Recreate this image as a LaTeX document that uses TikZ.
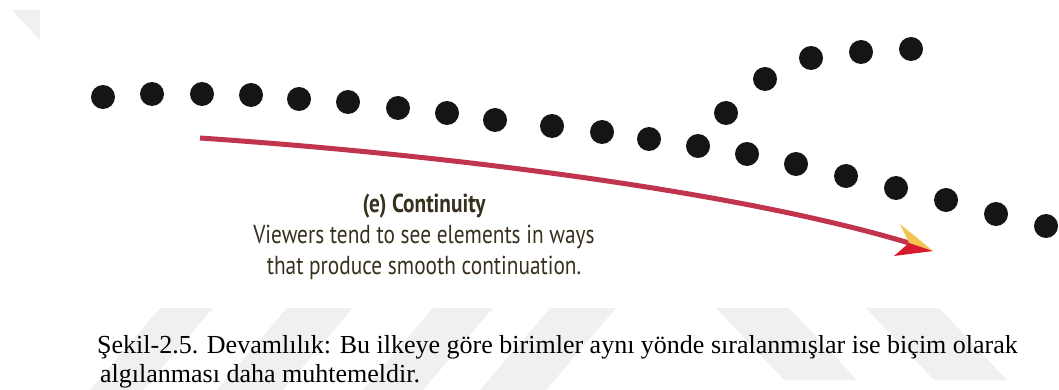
\documentclass[tikz,border=0pt]{standalone}
\usepackage{fontspec}
\setmainfont{Liberation Serif}
\newfontfamily\condsans[FakeStretch=0.82]{PT Sans}

\definecolor{dotblack}{RGB}{22,20,20}
\definecolor{arrowred}{RGB}{192,52,78}
\definecolor{headred}{RGB}{214,28,44}
\definecolor{headyellow}{RGB}{244,196,80}
\definecolor{labelbrown}{RGB}{56,48,30}
\definecolor{markgray}{RGB}{240,240,240}

\tikzset{
  dot/.style={circle, fill=dotblack, inner sep=0pt, minimum size=24pt},
  markband/.style={fill=markgray, draw=none},
  labeltext/.style={font=\condsans\fontsize{26}{31}\selectfont, text=labelbrown, align=center},
  captionline/.style={font=\fontsize{26}{29}\selectfont, anchor=base west, inner sep=0pt},
}

\begin{document}
\begin{tikzpicture}[x=1pt, y=-1pt]
    % --- canvas (pixel units, y downwards) ---
    \useasboundingbox (0,0) rectangle (1059,390);

    % --- faint watermark bands ---
    \fill[markband] (12,10) -- (40,10) -- (40,40) -- cycle;
    \foreach \xa/\xb in {160/213, 287/353, 433/493, 550/616}
        \fill[markband] (\xa,308) -- (\xb,308) -- (\xb-70,390) -- (\xa-70,390) -- cycle;
    \foreach \xa/\xb in {716/789, 866/939}
        \fill[markband] (\xa,308) -- (\xb,308) -- (\xb+68,380) -- (\xa+68,380) -- cycle;

    % --- main row of dots, bending down on the right ---
    \foreach \n/\x/\y in {1/103/97, 2/152/94, 3/202/94, 4/251/95, 5/299/99,
                          6/348/102, 7/398/108, 8/447/113, 9/495/120, 10/552/126,
                          11/602/132, 12/649/139, 13/698/146, 14/747/154, 15/796/164,
                          16/846/176, 17/896/188, 18/946/200, 19/996/214, 20/1046/226}
        \node[dot] (d\n) at (\x,\y) {};

    % --- branch of dots rising to the upper right ---
    \foreach \n/\x/\y in {1/726/113, 2/765/79, 3/811/58, 4/861/52, 5/911/49}
        \node[dot] (u\n) at (\x,\y) {};

    % --- curved arrow with two-tone head ---
    \coordinate (arrowstart) at (200,138);
    \coordinate (arrownotch) at (909,243);
    \coordinate (arrowtip) at (933,251);
    \draw[arrowred, line width=5pt] (arrowstart) .. controls (450,155) and (740,192) .. (arrownotch);
    \fill[headyellow] (arrowtip) -- (900,224) -- (arrownotch) -- cycle;
    \fill[headred] (arrowtip) -- (arrownotch) -- (894,256) -- cycle;

    % --- label under the arrow ---
    \node[labeltext] (label) at (424,237)
        {{\bfseries (e) Continuity}\\Viewers tend to see elements in ways\\that produce smooth continuation.};

    % --- caption ---
    \node[captionline] (caption1) at (97,353)
        {Şekil-2.5. Devamlılık: Bu ilkeye göre birimler aynı yönde sıralanmışlar ise biçim olarak};
    \node[captionline] (caption2) at (100,382) {algılanması daha muhtemeldir.};
\end{tikzpicture}
\end{document}
